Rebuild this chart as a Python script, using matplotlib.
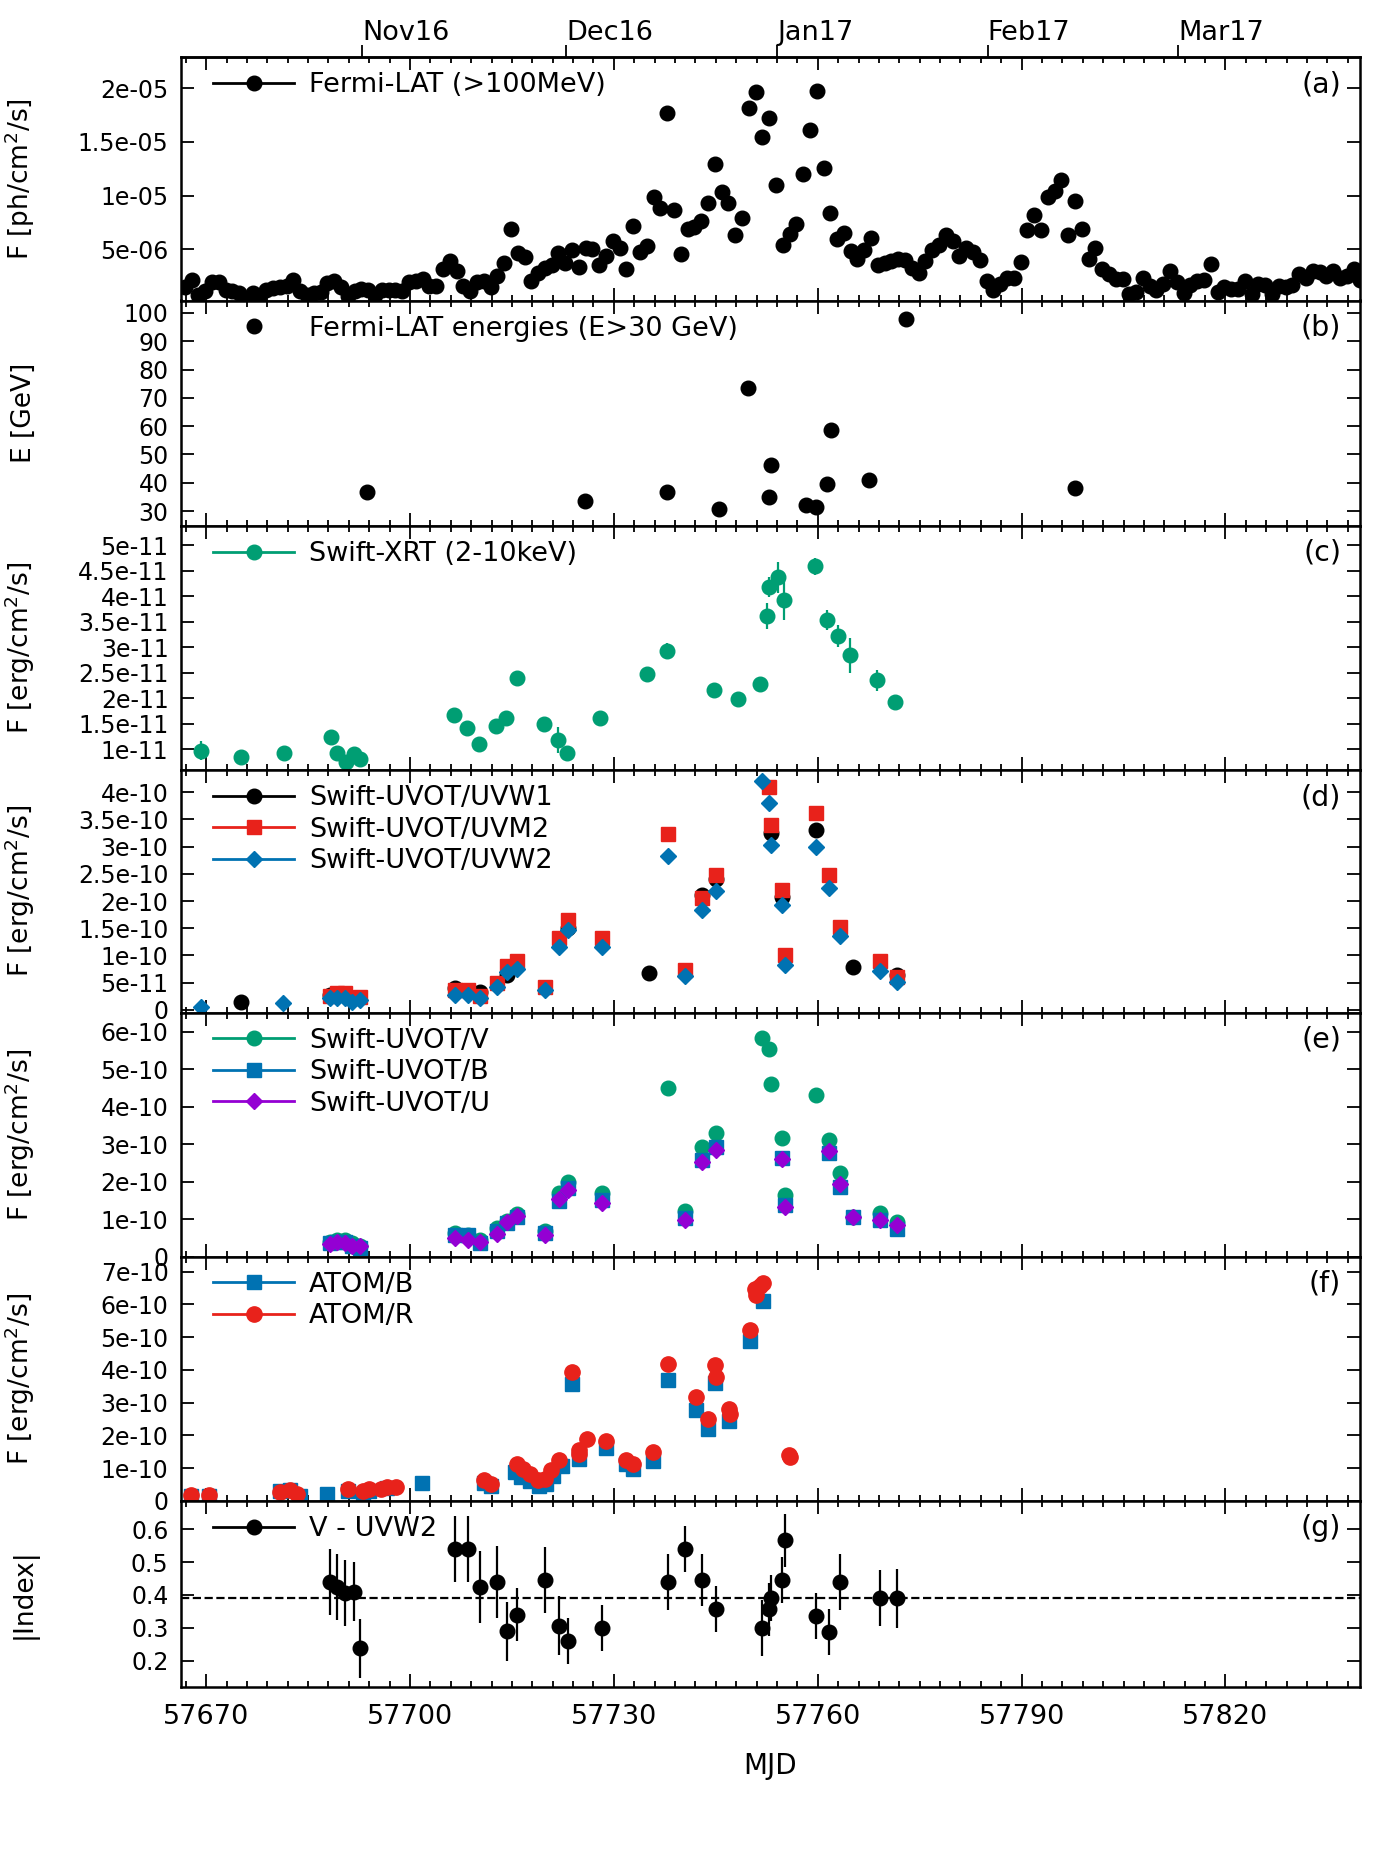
import numpy as np
import matplotlib
matplotlib.use("Agg")
import matplotlib.pyplot as plt
from matplotlib.lines import Line2D
from matplotlib.transforms import offset_copy
from matplotlib.ticker import MultipleLocator, NullLocator, FuncFormatter

# (a) Fermi-LAT daily flux >100 MeV, units 1e-6 ph/cm2/s (daily bins)
fermi_t0 = 57666.85
fermi_flux = [
    1.47, 2.19, 0.72, 1.16, 1.97, 1.97, 1.25, 1.16, 0.94, 0.41,
    0.94, 0.63, 1.25, 1.41, 1.47, 1.63, 2.19, 1.09, 0.78, 0.94,
    1.03, 1.88, 2.09, 1.47, 0.63, 1.09, 1.34, 1.25, 0.78, 1.25,
    1.25, 1.25, 1.16, 1.97, 2.09, 2.28, 1.63, 1.56, 3.19, 3.91,
    3.03, 1.56, 1.16, 1.97, 2.09, 1.47, 2.56, 3.75, 6.94, 4.69,
    4.28, 2.03, 2.81, 3.28, 3.53, 4.63, 3.75, 4.91, 3.34, 5.16,
    5.00, 3.59, 4.38, 5.78, 5.16, 3.19, 7.19, 4.78, 5.31, 9.91,
    8.84, 17.66, 8.66, 4.53, 6.88, 7.09, 7.66, 9.28, 12.97, 10.31,
    9.28, 6.34, 7.88, 18.13, 19.63, 15.47, 17.19, 11.03, 5.41, 6.47,
    7.34, 11.97, 16.09, 19.78, 12.56, 8.34, 5.94, 6.56, 4.84, 4.06,
    4.91, 6.09, 3.59, 3.75, 3.91, 4.06, 3.97, 3.28, 2.81, 3.91,
    4.91, 5.41, 6.31, 5.78, 4.38, 5.16, 4.78, 3.97, 2.09, 1.25,
    1.78, 2.34, 2.34, 3.84, 6.81, 8.19, 6.78, 9.91, 10.47, 11.47,
    6.31, 9.47, 6.94, 4.06, 5.16, 3.13, 2.66, 2.28, 2.28, 0.84,
    1.03, 2.34, 1.56, 1.25, 1.78, 3.03, 1.97, 0.94, 1.72, 2.09,
    2.19, 3.66, 1.03, 1.47, 1.34, 1.34, 2.03, 0.84, 1.78, 1.72,
    0.84, 1.56, 1.47, 1.72, 2.72, 2.34, 2.97, 2.91, 2.50, 2.97,
    2.34, 2.50, 3.13, 2.19,
]
fermi_mjd = fermi_t0 + np.arange(len(fermi_flux))

# (b) Fermi-LAT photon energies above 30 GeV
e_mjd = [57693.6, 57725.8, 57737.8, 57745.4, 57749.7, 57752.8, 57753.1,
         57758.3, 57759.8, 57761.4, 57762.0, 57767.5, 57773.0, 57797.9]
energy = [36.6, 33.7, 36.6, 30.7, 73.4, 35.1, 46.1,
          32.1, 31.3, 39.4, 58.7, 41.0, 97.9, 38.0]

# (c) Swift-XRT 2-10 keV, units 1e-11 erg/cm2/s
xrt_mjd = [57669.2, 57675.1, 57681.4, 57688.4, 57689.3, 57690.6, 57691.8, 57692.7,
           57706.5, 57708.4, 57710.1, 57712.6, 57714.1, 57715.7, 57719.7, 57721.8,
           57723.1, 57728.0, 57734.9, 57737.8, 57744.8, 57748.2, 57751.5, 57752.5,
           57752.8, 57754.2, 57755.0, 57759.6, 57761.4, 57763.0, 57764.8, 57768.7,
           57771.3]
xrt = [0.97, 0.85, 0.93, 1.24, 0.93, 0.75, 0.90, 0.80,
       1.67, 1.41, 1.10, 1.45, 1.62, 2.39, 1.50, 1.18,
       0.92, 1.61, 2.48, 2.93, 2.16, 1.98, 2.27, 3.61,
       4.18, 4.37, 3.93, 4.59, 3.54, 3.22, 2.84, 2.35,
       1.92]
xrt_err = [0.18, 0.10, 0.12, 0.13, 0.12, 0.12, 0.12, 0.10,
           0.12, 0.13, 0.10, 0.12, 0.12, 0.13, 0.12, 0.25,
           0.10, 0.12, 0.10, 0.16, 0.14, 0.13, 0.14, 0.25,
           0.20, 0.30, 0.40, 0.17, 0.20, 0.22, 0.35, 0.20,
           0.12]

# (d) Swift-UVOT UV filters, units 1e-10 erg/cm2/s
uvw1_mjd = [57675.1, 57688.3, 57691.5, 57706.6, 57710.3, 57714.3, 57723.2, 57735.2,
            57742.9, 57745.1, 57753.1, 57754.7, 57759.8, 57765.2, 57771.6]
uvw1 = [0.14, 0.28, 0.22, 0.40, 0.33, 0.64, 1.50, 0.68,
        2.11, 2.40, 3.25, 2.08, 3.31, 0.78, 0.64]
uvm2_mjd = [57688.3, 57689.3, 57690.4, 57691.5, 57692.6, 57706.6, 57708.5, 57710.3,
            57712.8, 57714.3, 57715.8, 57719.8, 57721.9, 57723.2, 57728.2, 57738.0,
            57740.5, 57742.9, 57745.1, 57752.8, 57753.1, 57754.7, 57755.2, 57759.8,
            57761.7, 57763.3, 57769.2, 57771.6]
uvm2 = [0.25, 0.31, 0.31, 0.21, 0.23, 0.37, 0.37, 0.26,
        0.50, 0.81, 0.89, 0.41, 1.32, 1.65, 1.32, 3.23,
        0.73, 2.06, 2.47, 4.10, 3.39, 2.20, 1.01, 3.61,
        2.47, 1.53, 0.89, 0.61]
uvw2_mjd = [57669.3, 57681.3, 57688.3, 57689.3, 57690.4, 57691.5, 57692.6, 57706.6,
            57708.5, 57710.3, 57712.8, 57714.3, 57715.8, 57719.8, 57721.9, 57723.2,
            57728.2, 57738.0, 57740.5, 57742.9, 57745.1, 57751.8, 57752.8, 57753.1,
            57754.7, 57755.2, 57759.8, 57761.7, 57763.3, 57769.2, 57771.6]
uvw2 = [0.06, 0.13, 0.21, 0.21, 0.21, 0.14, 0.18, 0.28,
        0.28, 0.21, 0.41, 0.69, 0.75, 0.37, 1.16, 1.47,
        1.16, 2.82, 0.62, 1.83, 2.19, 4.20, 3.80, 3.03,
        1.93, 0.82, 3.00, 2.24, 1.35, 0.71, 0.51]

# (e) Swift-UVOT optical filters, units 1e-10 erg/cm2/s
v_mjd = [57688.3, 57689.3, 57690.4, 57691.5, 57692.6, 57706.6, 57708.5, 57710.3,
         57712.8, 57714.3, 57715.8, 57719.8, 57721.9, 57723.2, 57728.2, 57738.0,
         57740.5, 57742.9, 57745.1, 57751.8, 57752.8, 57753.1, 57754.7, 57755.2,
         57759.8, 57761.7, 57763.3, 57765.2, 57769.2, 57771.6]
v_flux = [0.40, 0.44, 0.44, 0.36, 0.29, 0.62, 0.58, 0.44,
          0.77, 0.95, 1.13, 0.68, 1.69, 2.00, 1.69, 4.49,
          1.22, 2.93, 3.29, 5.84, 5.54, 4.60, 3.16, 1.64,
          4.31, 3.11, 2.22, 1.05, 1.16, 0.93]
bu_mjd = [57688.3, 57689.3, 57690.4, 57691.5, 57692.6, 57706.6, 57708.5, 57710.3,
          57712.8, 57714.3, 57715.8, 57719.8, 57721.9, 57723.2, 57728.2, 57740.5,
          57742.9, 57745.1, 57754.7, 57755.2, 57761.7, 57763.3, 57765.2, 57769.2,
          57771.6]
b_flux = [0.36, 0.38, 0.38, 0.27, 0.24, 0.58, 0.58, 0.36,
          0.67, 0.89, 1.05, 0.62, 1.47, 1.84, 1.51, 1.02,
          2.58, 2.93, 2.62, 1.38, 2.77, 1.87, 1.05, 0.98,
          0.74]
u_flux = [0.33, 0.38, 0.36, 0.29, 0.27, 0.49, 0.44, 0.38,
          0.61, 0.93, 1.08, 0.58, 1.54, 1.78, 1.44, 0.98,
          2.53, 2.84, 2.60, 1.33, 2.83, 1.93, 1.05, 0.98,
          0.83]

# (f) ATOM B and R, units 1e-10 erg/cm2/s
atomb_mjd = [57667.8, 57670.4, 57680.8, 57682.3, 57683.8, 57687.8, 57690.9, 57693.1,
             57694.0, 57696.6, 57701.7, 57710.9, 57711.9, 57715.5, 57716.4, 57717.7,
             57719.0, 57720.0, 57721.1, 57722.3, 57723.8, 57724.9, 57728.8, 57731.8,
             57732.8, 57735.8, 57738.0, 57742.1, 57743.9, 57744.9, 57747.0, 57750.1,
             57751.9]
atomb = [0.15, 0.15, 0.31, 0.33, 0.15, 0.22, 0.29, 0.15,
         0.31, 0.39, 0.56, 0.56, 0.46, 0.87, 0.74, 0.61,
         0.46, 0.51, 0.77, 1.07, 3.58, 1.28, 1.61, 1.12,
         0.97, 1.23, 3.70, 2.78, 2.20, 3.60, 2.45, 4.88,
         6.11]
atomr_mjd = [57667.8, 57670.4, 57680.8, 57682.3, 57683.4, 57690.9, 57693.1, 57694.0,
             57695.8, 57696.6, 57697.9, 57710.9, 57711.9, 57715.7, 57716.6, 57717.7,
             57718.9, 57719.8, 57720.8, 57721.9, 57723.8, 57724.8, 57724.9, 57726.0,
             57728.8, 57731.8, 57732.8, 57735.8, 57738.0, 57742.1, 57743.9, 57744.9,
             57745.0, 57747.0, 57747.1, 57750.1, 57750.8, 57750.9, 57751.5, 57751.9,
             57755.8, 57755.9]
atomr = [0.17, 0.17, 0.26, 0.33, 0.20, 0.36, 0.31, 0.36,
         0.36, 0.43, 0.43, 0.63, 0.53, 1.12, 0.97, 0.82,
         0.63, 0.66, 0.94, 1.25, 3.93, 1.55, 1.43, 1.89,
         1.82, 1.25, 1.12, 1.48, 4.19, 3.17, 2.50, 4.14,
         3.78, 2.81, 2.64, 5.23, 6.46, 6.28, 6.56, 6.66,
         1.41, 1.33]

# (g) V - UVW2 colour index
idx_mjd = [57688.3, 57689.3, 57690.4, 57691.8, 57692.6, 57706.6, 57708.5, 57710.3,
           57712.8, 57714.3, 57715.8, 57719.8, 57721.9, 57723.2, 57728.2, 57738.0,
           57740.5, 57742.9, 57745.1, 57751.8, 57752.8, 57753.1, 57754.7, 57755.2,
           57759.8, 57761.7, 57763.3, 57769.2, 57771.6]
idx = [0.44, 0.425, 0.407, 0.41, 0.238, 0.54, 0.54, 0.425,
       0.44, 0.29, 0.34, 0.446, 0.306, 0.26, 0.30, 0.44,
       0.54, 0.446, 0.356, 0.30, 0.356, 0.39, 0.446, 0.566,
       0.337, 0.286, 0.44, 0.39, 0.39]
idx_err = [0.10, 0.10, 0.10, 0.09, 0.09, 0.10, 0.10, 0.11,
           0.11, 0.09, 0.08, 0.10, 0.09, 0.07, 0.07, 0.085,
           0.07, 0.08, 0.07, 0.085, 0.08, 0.07, 0.07, 0.08,
           0.07, 0.07, 0.085, 0.085, 0.09]
idx_mean = 0.39

months = ["Nov16", "Dec16", "Jan17", "Feb17", "Mar17"]
month_mjd = [57693, 57723, 57754, 57785, 57813]

GREEN = "#009e73"
BLUE = "#0072b2"
RED = "#e8221b"
PURPLE = "#9400d3"

FS_YTICK = 17
FS_XTICK = 19.5
FS_LAB = 19
FS_LEG = 19.5
FS_TAG = 20.5
MS = 10.5

fig = plt.figure(figsize=(13.88, 18.75), dpi=100)
gs = fig.add_gridspec(7, 1, left=181/1388, right=1360/1388, top=1-57/1875,
                      bottom=1-1687/1875, hspace=0,
                      height_ratios=[243.5, 225.5, 244, 242.5, 244, 244.5, 186])
axes = [fig.add_subplot(gs[0])]
for i in range(1, 7):
    axes.append(fig.add_subplot(gs[i], sharex=axes[0]))


def style(ax, ylab, ystep, tag):
    ax.tick_params(which="both", direction="in", top=True, right=True)
    ax.tick_params(axis="y", labelsize=FS_YTICK, pad=9)
    ax.tick_params(axis="x", labelsize=FS_XTICK, pad=12)
    ax.tick_params(which="major", length=9.5, width=1.3)
    ax.tick_params(which="minor", length=4.5, width=1.3)
    ax.xaxis.set_major_locator(MultipleLocator(30, offset=10))
    ax.xaxis.set_minor_locator(MultipleLocator(3, offset=1))
    ax.yaxis.set_major_locator(MultipleLocator(ystep))
    ax.yaxis.set_minor_locator(NullLocator())
    ax.yaxis.set_major_formatter(FuncFormatter(lambda v, p: "%g" % v))
    for s in ax.spines.values():
        s.set_linewidth(1.8)
    ax.set_ylabel(ylab, fontsize=FS_LAB)
    ax.yaxis.set_label_coords(-0.122, 0.5)
    ax.annotate(tag, xy=(1, 1), xycoords="axes fraction", xytext=(-19, -27),
                textcoords="offset pixels", ha="right", va="center", fontsize=FS_TAG)
    if ax is not axes[-1]:
        ax.tick_params(labelbottom=False)


def add_legend(ax, entries, line=True):
    handles = []
    for color, marker, ms in entries[0]:
        handles.append(Line2D([], [], color=color, marker=marker, ms=ms,
                              lw=2 if line else 0))
    anchor = offset_copy(ax.transAxes, fig=fig, x=32, y=-15, units="dots")
    ax.legend(handles, entries[1], loc="upper left", bbox_to_anchor=(0, 1),
              bbox_transform=anchor, frameon=False, fontsize=FS_LEG,
              handlelength=3.0, handletextpad=0.55, labelspacing=0.21,
              borderaxespad=0, borderpad=0, numpoints=1)


eb = dict(ls="none", capsize=0, elinewidth=1.6)

# (a)
ax = axes[0]
ax.plot(fermi_mjd, np.array(fermi_flux) * 1e-6, "o", color="black", ms=MS)
ax.set_ylim(2.4e-7, 2.29e-5)
style(ax, "F [ph/cm$^2$/s]", 5e-6, "(a)")
add_legend(ax, ([("black", "o", MS)], ["Fermi-LAT (>100MeV)"]))
top = ax.secondary_xaxis("top")
top.set_xticks(month_mjd, labels=months)
top.xaxis.set_minor_locator(NullLocator())
top.tick_params(direction="out", length=9, width=1.3, labelsize=FS_XTICK, pad=-1)
for lbl in top.get_xticklabels():
    lbl.set_horizontalalignment("left")
top.spines["top"].set_linewidth(1.8)

# (b)
ax = axes[1]
ax.plot(e_mjd, energy, "o", color="black", ms=MS)
ax.set_ylim(24.7, 104.4)
style(ax, "E [GeV]", 10, "(b)")
add_legend(ax, ([("black", "o", MS)], ["Fermi-LAT energies (E>30 GeV)"]), line=False)

# (c)
ax = axes[2]
ax.errorbar(xrt_mjd, np.array(xrt) * 1e-11, yerr=np.array(xrt_err) * 1e-11,
            fmt="o", color=GREEN, ms=MS, **eb)
ax.set_ylim(5.9e-12, 5.38e-11)
style(ax, "F [erg/cm$^2$/s]", 5e-12, "(c)")
add_legend(ax, ([(GREEN, "o", MS)], ["Swift-XRT (2-10keV)"]))

# (d)
ax = axes[3]
ax.plot(uvw1_mjd, np.array(uvw1) * 1e-10, "o", color="black", ms=MS)
ax.plot(uvm2_mjd, np.array(uvm2) * 1e-10, "s", color=RED, ms=10)
ax.plot(uvw2_mjd, np.array(uvw2) * 1e-10, "D", color=BLUE, ms=8)
ax.set_ylim(-5e-12, 4.41e-10)
style(ax, "F [erg/cm$^2$/s]", 5e-11, "(d)")
add_legend(ax, ([("black", "o", MS), (RED, "s", 10), (BLUE, "D", 8)],
                ["Swift-UVOT/UVW1", "Swift-UVOT/UVM2", "Swift-UVOT/UVW2"]))

# (e)
ax = axes[4]
ax.plot(v_mjd, np.array(v_flux) * 1e-10, "o", color=GREEN, ms=MS)
ax.plot(bu_mjd, np.array(b_flux) * 1e-10, "s", color=BLUE, ms=10)
ax.plot(bu_mjd, np.array(u_flux) * 1e-10, "D", color=PURPLE, ms=8)
ax.set_ylim(0, 6.52e-10)
style(ax, "F [erg/cm$^2$/s]", 1e-10, "(e)")
add_legend(ax, ([(GREEN, "o", MS), (BLUE, "s", 10), (PURPLE, "D", 8)],
                ["Swift-UVOT/V", "Swift-UVOT/B", "Swift-UVOT/U"]))

# (f)
ax = axes[5]
ax.plot(atomb_mjd, np.array(atomb) * 1e-10, "s", color=BLUE, ms=10.5)
ax.plot(atomr_mjd, np.array(atomr) * 1e-10, "o", color=RED, ms=11)
ax.set_ylim(0, 7.46e-10)
style(ax, "F [erg/cm$^2$/s]", 1e-10, "(f)")
add_legend(ax, ([(BLUE, "s", 10.5), (RED, "o", 11)], ["ATOM/B", "ATOM/R"]))

# (g)
ax = axes[6]
ax.errorbar(idx_mjd, idx, yerr=idx_err, fmt="o", color="black", ms=MS, **eb)
ax.axhline(idx_mean, color="black", ls="--", lw=1.6)
ax.set_ylim(0.12, 0.686)
style(ax, "|Index|", 0.1, "(g)")
add_legend(ax, ([("black", "o", MS)], ["V - UVW2"]))

axes[-1].set_xlim(57666.3, 57839.8)
axes[-1].set_xlabel("MJD", fontsize=20, labelpad=16)

fig.savefig("out.png", dpi=100)
